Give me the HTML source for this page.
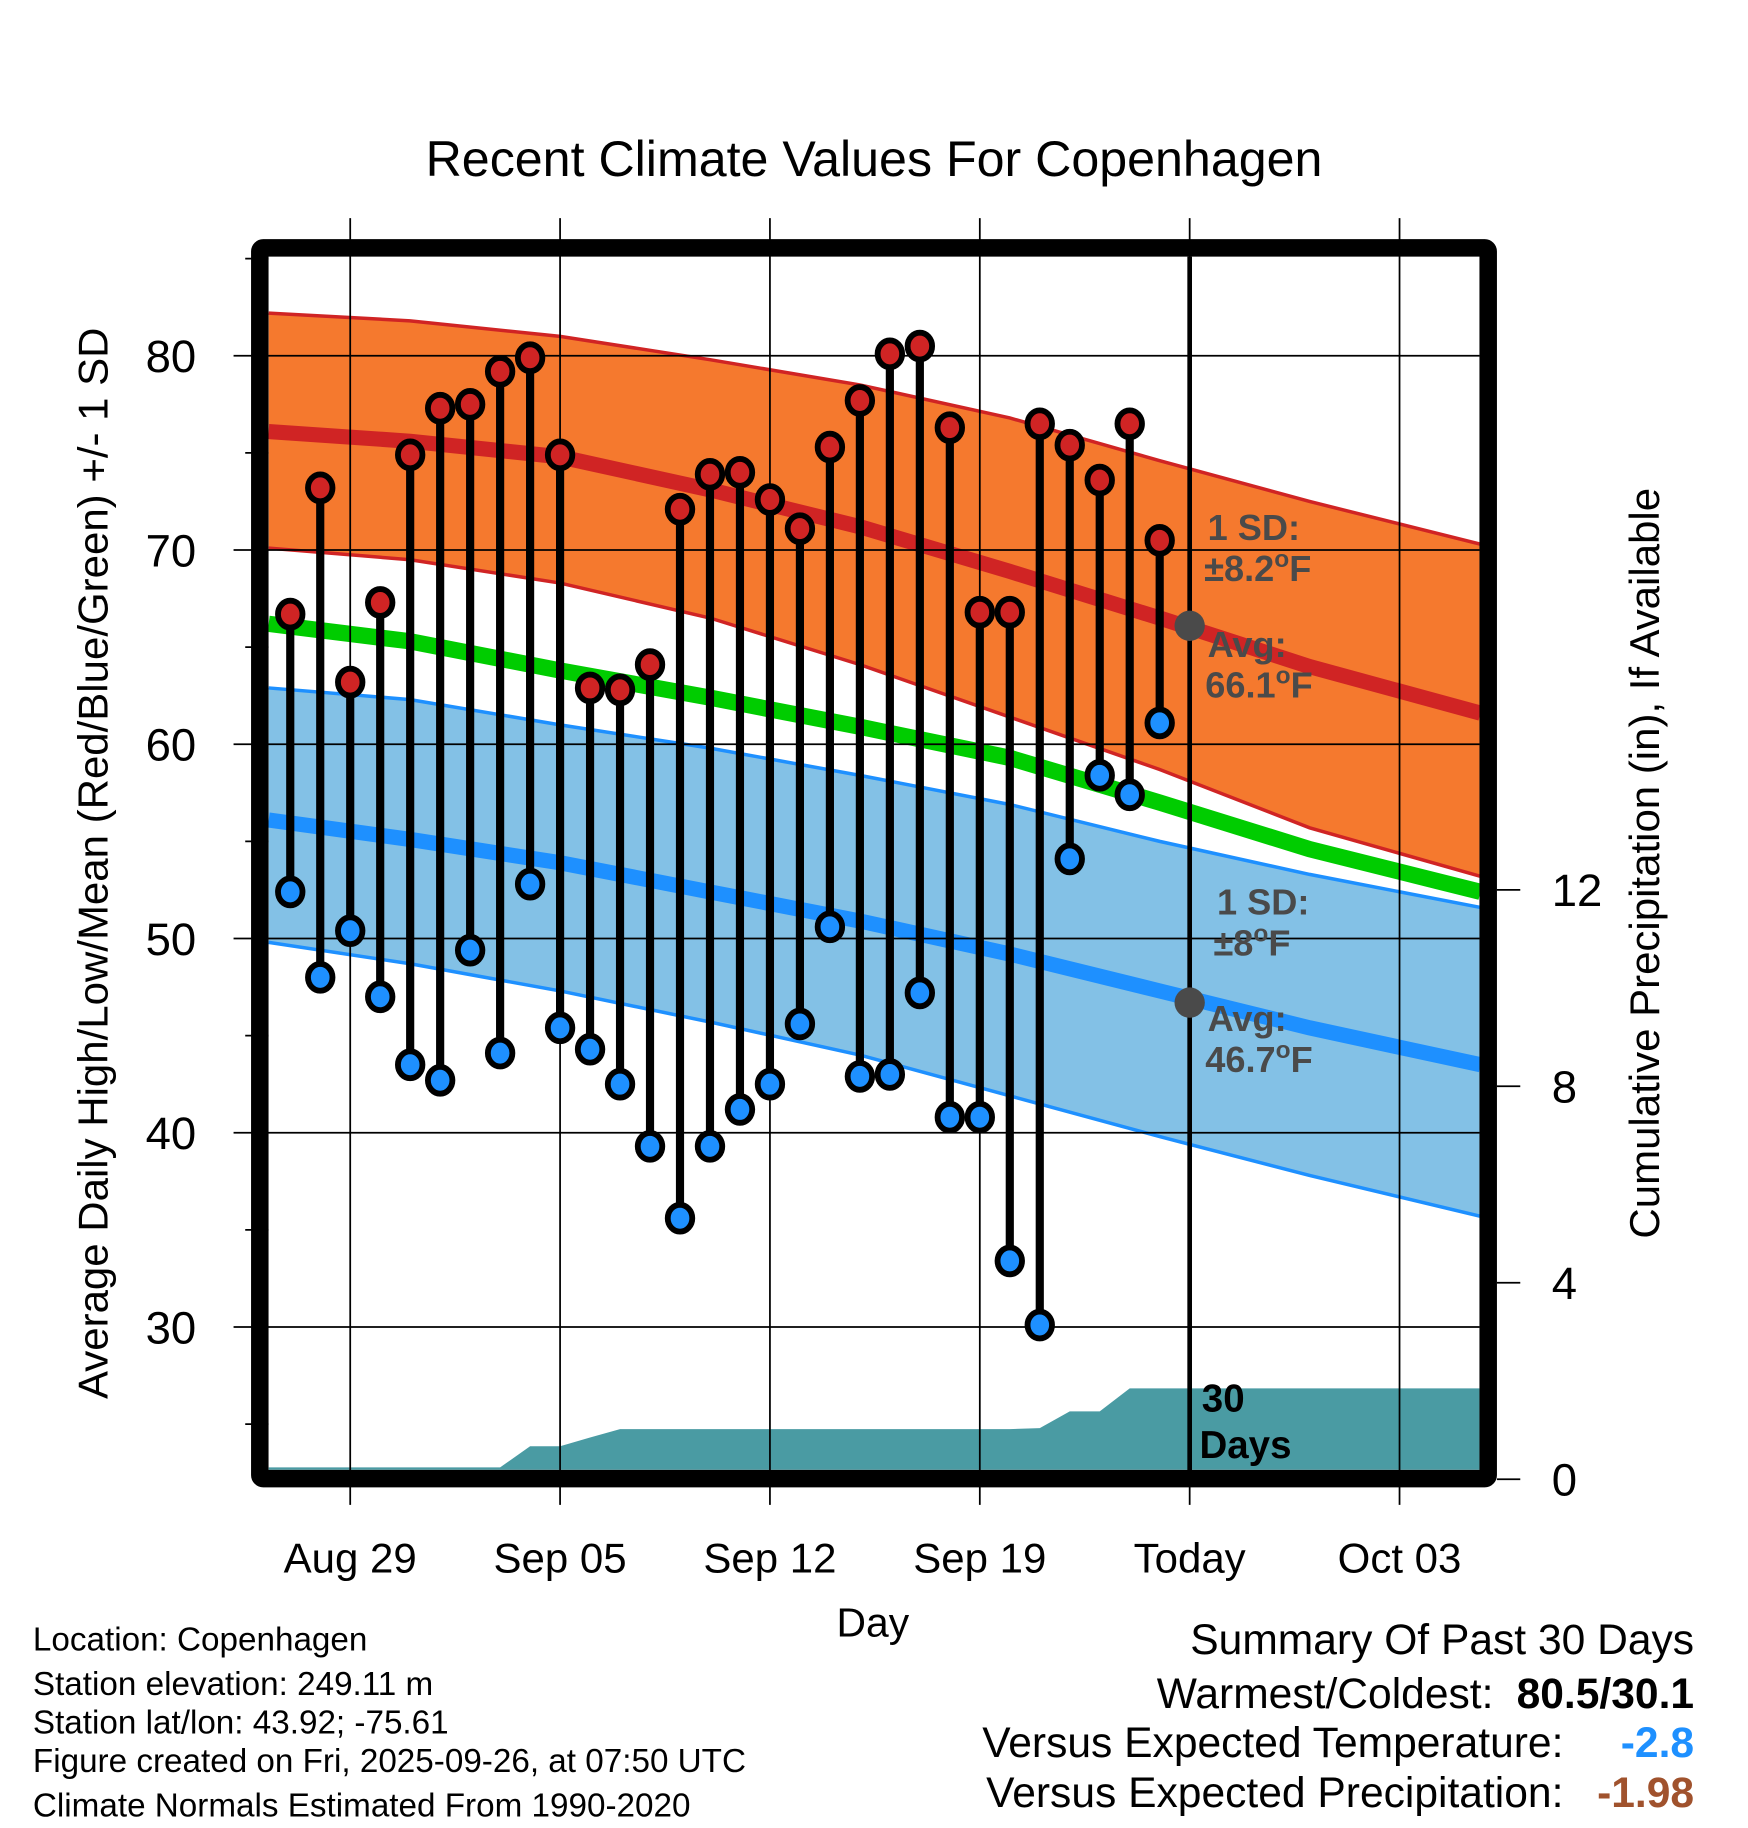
<!DOCTYPE html>
<html><head><meta charset="utf-8"><style>
html,body{margin:0;padding:0;background:#fff}
svg{display:block}
text{font-family:"Liberation Sans",Arial,sans-serif}
</style></head><body>
<svg id="chart" width="1748" height="1828" viewBox="0 0 1498 1567" xmlns="http://www.w3.org/2000/svg">
<defs><clipPath id="plotclip"><rect x="230" y="220" width="1038" height="1040"/></clipPath></defs>
<rect width="1498" height="1567" fill="#fff"/>
<text x="749" y="151" font-size="43" text-anchor="middle">Recent Climate Values For Copenhagen</text>
<g id="bands" clip-path="url(#plotclip)"></g>
<g id="grid"></g>
<g id="marks"></g>
<g id="frame"></g>
<g id="labels"></g>
<text transform="translate(92,740) rotate(-90)" font-size="36" text-anchor="middle">Average Daily High/Low/Mean (Red/Blue/Green) +/- 1 SD</text>
<text transform="translate(1422,740) rotate(-90)" font-size="36" text-anchor="middle">Cumulative Precipitation (in), If Available</text>
<text x="748" y="1403" font-size="35" text-anchor="middle">Day</text>
<g font-size="28.5">
<text x="28" y="1415">Location: Copenhagen</text>
<text x="28" y="1453">Station elevation: 249.11 m</text>
<text x="28" y="1486">Station lat/lon: 43.92; -75.61</text>
<text x="28" y="1519">Figure created on Fri, 2025-09-26, at 07:50 UTC</text>
<text x="28" y="1557">Climate Normals Estimated From 1990-2020</text>
</g>
<g font-size="36.5">
<text x="1452" y="1418" text-anchor="end">Summary Of Past 30 Days</text>
<text x="1280" y="1464" text-anchor="end">Warmest/Coldest:</text>
<text x="1452" y="1464" text-anchor="end" font-weight="bold">80.5/30.1</text>
<text x="1340" y="1506" text-anchor="end">Versus Expected Temperature:</text>
<text x="1452" y="1506" text-anchor="end" font-weight="bold" fill="#1e90ff">-2.8</text>
<text x="1340" y="1549" text-anchor="end">Versus Expected Precipitation:</text>
<text x="1452" y="1549" text-anchor="end" font-weight="bold" fill="#a0522d">-1.98</text>
</g>
<script>
// ---- data ----
const normDays = [-2.72, 2, 7, 12, 17, 22, 27, 32, 37.7];
const highUpper = [82.2, 81.8, 81.0, 79.8, 78.5, 76.8, 74.6, 72.5, 70.3];
const highMean  = [76.1, 75.6, 74.8, 73.1, 71.2, 68.9, 66.5, 64.0, 61.6];
const highLower = [70.1, 69.5, 68.3, 66.5, 64.1, 61.4, 58.7, 55.7, 53.2];
const meanNorm  = [66.2, 65.3, 63.8, 62.4, 60.9, 59.3, 57.0, 54.6, 52.4];
const lowUpper  = [62.9, 62.3, 61.0, 59.8, 58.4, 56.9, 55.0, 53.3, 51.6];
const lowMean   = [56.1, 55.1, 53.9, 52.4, 50.9, 49.2, 47.3, 45.4, 43.5];
const lowLower  = [49.8, 48.7, 47.3, 45.7, 44.0, 41.9, 39.8, 37.8, 35.7];
const obsDays = [-2,-1,0,1,2,3,4,5,6,7,8,9,10,11,12,13,14,15,16,17,18,19,20,21,22,23,24,25,26,27];
const obsHigh = [66.7,73.2,63.2,67.3,74.9,77.3,77.5,79.2,79.9,74.9,62.9,62.8,64.1,72.1,73.9,74.0,72.6,71.1,75.3,77.7,80.1,80.5,76.3,66.8,66.8,76.5,75.4,73.6,76.5,70.5];
const obsLow  = [52.4,48.0,50.4,47.0,43.5,42.7,49.4,44.1,52.8,45.4,44.3,42.5,39.3,35.6,39.3,41.2,42.5,45.6,50.6,42.9,43.0,47.2,40.8,40.8,33.4,30.1,54.1,58.4,57.4,61.1];
const precip  = [0.24,0.24,0.24,0.24,0.24,0.24,0.24,0.24,0.67,0.67,0.85,1.02,1.02,1.02,1.02,1.02,1.02,1.02,1.02,1.02,1.02,1.02,1.02,1.02,1.02,1.04,1.38,1.38,1.85,1.85];
const xTickDays = [0,7,14,21,28,35];
const xTickLabels = ["Aug 29","Sep 05","Sep 12","Sep 19","Today","Oct 03"];
const yTicks = [30,40,50,60,70,80];
const y2Ticks = [0,4,8,12];
// ---- scales ----
const X = d => 300 + d*25.7;
const Y = v => 305 + (80 - v)*16.65;
const Y2 = p => 1268 - p*42.1;
const NS='http://www.w3.org/2000/svg';
function mk(parent, tag, attrs){const e=document.createElementNS(NS,tag);for(const k in attrs)e.setAttribute(k,attrs[k]);parent.appendChild(e);return e;}
const bands=document.getElementById('bands'), grid=document.getElementById('grid'), marks=document.getElementById('marks'), frame=document.getElementById('frame'), labels=document.getElementById('labels');
function pts(arr){return normDays.map((d,i)=>X(d)+','+Y(arr[i])).join(' ');}
function band(up,lo,fill,edge,name){
  const p=normDays.map((d,i)=>X(d)+','+Y(up[i])).concat(normDays.slice().reverse().map((d,j)=>{const i=normDays.length-1-j;return X(d)+','+Y(lo[i]);}));
  const e=mk(bands,'polygon',{points:p.join(' '),fill:fill});
  
  
  const a=mk(bands,'polyline',{points:pts(up),fill:'none',stroke:edge,'stroke-width':3});
  
  
  const b=mk(bands,'polyline',{points:pts(lo),fill:'none',stroke:edge,'stroke-width':3});
  
  
}
band(highUpper,highLower,'#f5792e','#d02424','high-sd-band');
band(lowUpper,lowLower,'#83c1e6','#1e90ff','low-sd-band');
let l=mk(bands,'polyline',{points:pts(meanNorm),fill:'none',stroke:'#00cc00','stroke-width':14});


l=mk(bands,'polyline',{points:pts(highMean),fill:'none',stroke:'#d02424','stroke-width':13});


l=mk(bands,'polyline',{points:pts(lowMean),fill:'none',stroke:'#1e90ff','stroke-width':13});


// precipitation area
let pp=[X(-2.72)+','+1260, X(-2.72)+','+Y2(precip[0])];
obsDays.forEach((d,i)=>pp.push(X(d)+','+Y2(precip[i])));
pp.push(X(37.7)+','+Y2(precip[precip.length-1]));
pp.push(X(37.7)+','+1260);
const pa=mk(bands,'polygon',{points:pp.join(' '),fill:'#4a9ba3'});


// grid
yTicks.forEach(v=>{const g=mk(grid,'line',{x1:200,x2:1268,y1:Y(v),y2:Y(v),stroke:'#000','stroke-width':1.5});
 
 
 const t=mk(labels,'text',{x:168,y:Y(v)+14,'font-size':39,'text-anchor':'end'});t.textContent=v;
 
 });
for(let v=25;v<=85;v+=5){if(v%10){const m=mk(grid,'line',{x1:210,x2:230,y1:Y(v),y2:Y(v),stroke:'#000','stroke-width':1.5});
 
 }}
xTickDays.forEach((d,i)=>{const today=xTickLabels[i]==='Today';
 const g=mk(grid,'line',{x1:X(d),x2:X(d),y1:187,y2:1290,stroke:'#000','stroke-width':1.5});
 
 
 if(today){const tl=mk(marks,'line',{x1:X(d),x2:X(d),y1:220,y2:1262,stroke:'#000','stroke-width':4});
  
  }
 const t=mk(labels,'text',{x:X(d),y:1348,'font-size':36,'text-anchor':'middle'});t.textContent=xTickLabels[i];
 
 });
y2Ticks.forEach(p=>{const g=mk(grid,'line',{x1:1283,x2:1303,y1:Y2(p),y2:Y2(p),stroke:'#000','stroke-width':1.5});
 
 
 const t=mk(labels,'text',{x:1330,y:Y2(p)+14,'font-size':39});t.textContent=p;
 
 });
// observations
obsDays.forEach((d,i)=>{const x=X(d);
 const s=mk(marks,'line',{x1:x,x2:x,y1:Y(obsHigh[i]),y2:Y(obsLow[i]),stroke:'#000','stroke-width':7});
 
 
 const h=mk(marks,'ellipse',{cx:x,cy:Y(obsHigh[i]),rx:10.5,ry:11.5,fill:'#d02424',stroke:'#000','stroke-width':5});
 
 
 const lo=mk(marks,'ellipse',{cx:x,cy:Y(obsLow[i]),rx:10.5,ry:11.5,fill:'#1e90ff',stroke:'#000','stroke-width':5});
 
 });
// today normal markers
[[66.1,'today-high-normal-dot'],[46.7,'today-low-normal-dot']].forEach(a=>{const c=mk(marks,'circle',{cx:X(28),cy:Y(a[0]),r:13,fill:'#4a4a4a'});
 
 });
// frame
const fr=mk(frame,'rect',{x:222.5,y:212.5,width:1053,height:1055,fill:'none',stroke:'#000','stroke-width':15,rx:3});


// annotations
function ann(x,y,txt,name,deg,fill,size){const t=mk(labels,'text',{x:x,y:y,'font-size':size||31,'font-weight':'bold',fill:fill||'#4a4a4a'});
 t.appendChild(document.createTextNode(txt));
 if(deg){const s1=mk(t,'tspan',{dy:-12,'font-size':21});s1.textContent='o';const s2=mk(t,'tspan',{dy:12});s2.textContent='F';}
 
 }
ann(1035,463,'1 SD:','high-sd-label');
ann(1032,498,'±8.2','high-sd-value',true);
ann(1035,563,'Avg:','high-avg-label');
ann(1033,598,'66.1','high-avg-value',true);
ann(1043,784,'1 SD:','low-sd-label');
ann(1040,819,'±8','low-sd-value',true);
ann(1035,884,'Avg:','low-avg-label');
ann(1033,919,'46.7','low-avg-value',true);
ann(1030,1210,'30','precip-days-label',false,'#000',33);
ann(1028,1250,'Days','precip-days-label-2',false,'#000',33);
</script>
</svg>
</body></html>
